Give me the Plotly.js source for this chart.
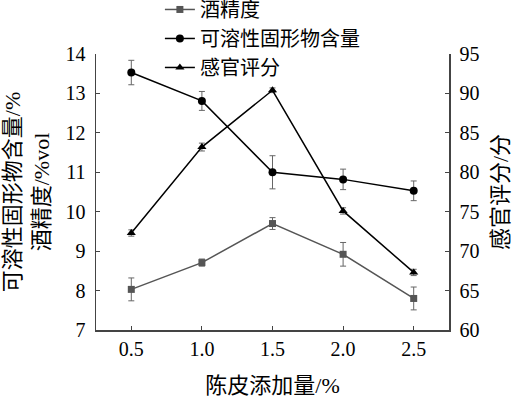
<!DOCTYPE html>
<html><head><meta charset="utf-8">
<script src="https://cdn.plot.ly/plotly-3.0.1.min.js"></script>
<style>html,body{margin:0;padding:0;background:#fff}#c{width:520px;height:398px}</style>
</head><body><div id="c"></div>
<script>
const dose = [0.5, 1.0, 1.5, 2.0, 2.5];
const alcohol = [8.03, 8.71, 9.70, 8.92, 7.80];
const alcoholErr = [0.29, 0.09, 0.15, 0.30, 0.29];
const solids = [13.53, 12.81, 11.00, 10.82, 10.53];
const solidsErr = [0.31, 0.24, 0.42, 0.26, 0.25];
const sensory = [72.3, 83.2, 90.4, 75.1, 67.3];
const sensoryErr = [0.4, 0.5, 0.3, 0.4, 0.4];
const names = ['酒精度', '可溶性固形物含量', '感官评分'];

const font = 'Liberation Serif, Times New Roman, Noto Sans CJK SC, serif';
const errStyle = (arr) => ({type: 'data', array: arr, visible: true, color: '#666', thickness: 1, width: 3});

const traces = [
  {x: dose, y: alcohol, name: names[0], type: 'scatter', mode: 'lines+markers',
   line: {color: '#555', width: 1.5}, marker: {symbol: 'square', size: 7, color: '#555'},
   error_y: errStyle(alcoholErr)},
  {x: dose, y: solids, name: names[1], type: 'scatter', mode: 'lines+markers',
   line: {color: '#000', width: 1.5}, marker: {symbol: 'circle', size: 8, color: '#000'},
   error_y: errStyle(solidsErr)},
  {x: dose, y: sensory, name: names[2], type: 'scatter', mode: 'lines+markers', yaxis: 'y2',
   line: {color: '#000', width: 1.5}, marker: {symbol: 'triangle-up', size: 8, color: '#000'},
   error_y: errStyle(sensoryErr)}
];

const axisCommon = {showgrid: false, zeroline: false, showline: true, linecolor: '#444', linewidth: 1.5,
  ticks: 'inside', ticklen: 4, tickcolor: '#444', tickfont: {family: font, size: 20, color: '#000'}};

const layout = {
  width: 520, height: 398,
  margin: {l: 96, r: 71, t: 54, b: 68, autoexpand: false},
  paper_bgcolor: '#fff', plot_bgcolor: '#fff',
  font: {family: font, color: '#000'},
  showlegend: true,
  legend: {x: 0.181, y: 1.232, xanchor: 'left', yanchor: 'top',
    bgcolor: 'rgba(0,0,0,0)', font: {family: font, size: 20, color: '#000'}, itemwidth: 30, tracegroupgap: 0},
  xaxis: Object.assign({}, axisCommon, {range: [0.25, 2.75], tickvals: dose, ticktext: ['0.5','1.0','1.5','2.0','2.5'],
    title: {text: '陈皮添加量/%', font: {family: font, size: 22}}}),
  yaxis: Object.assign({}, axisCommon, {range: [7, 14], dtick: 1, ticklabelstandoff: 5,
    title: {text: '可溶性固形物含量/%<br>酒精度/%vol', font: {family: font, size: 22}, standoff: 16}}),
  yaxis2: Object.assign({}, axisCommon, {range: [60, 95], dtick: 5, overlaying: 'y', side: 'right', ticklabelstandoff: 5,
    title: {text: '感官评分/分', font: {family: font, size: 22}, standoff: 14}})
};

Plotly.newPlot('c', traces, layout, {displayModeBar: false, staticPlot: true});
</script></body></html>
